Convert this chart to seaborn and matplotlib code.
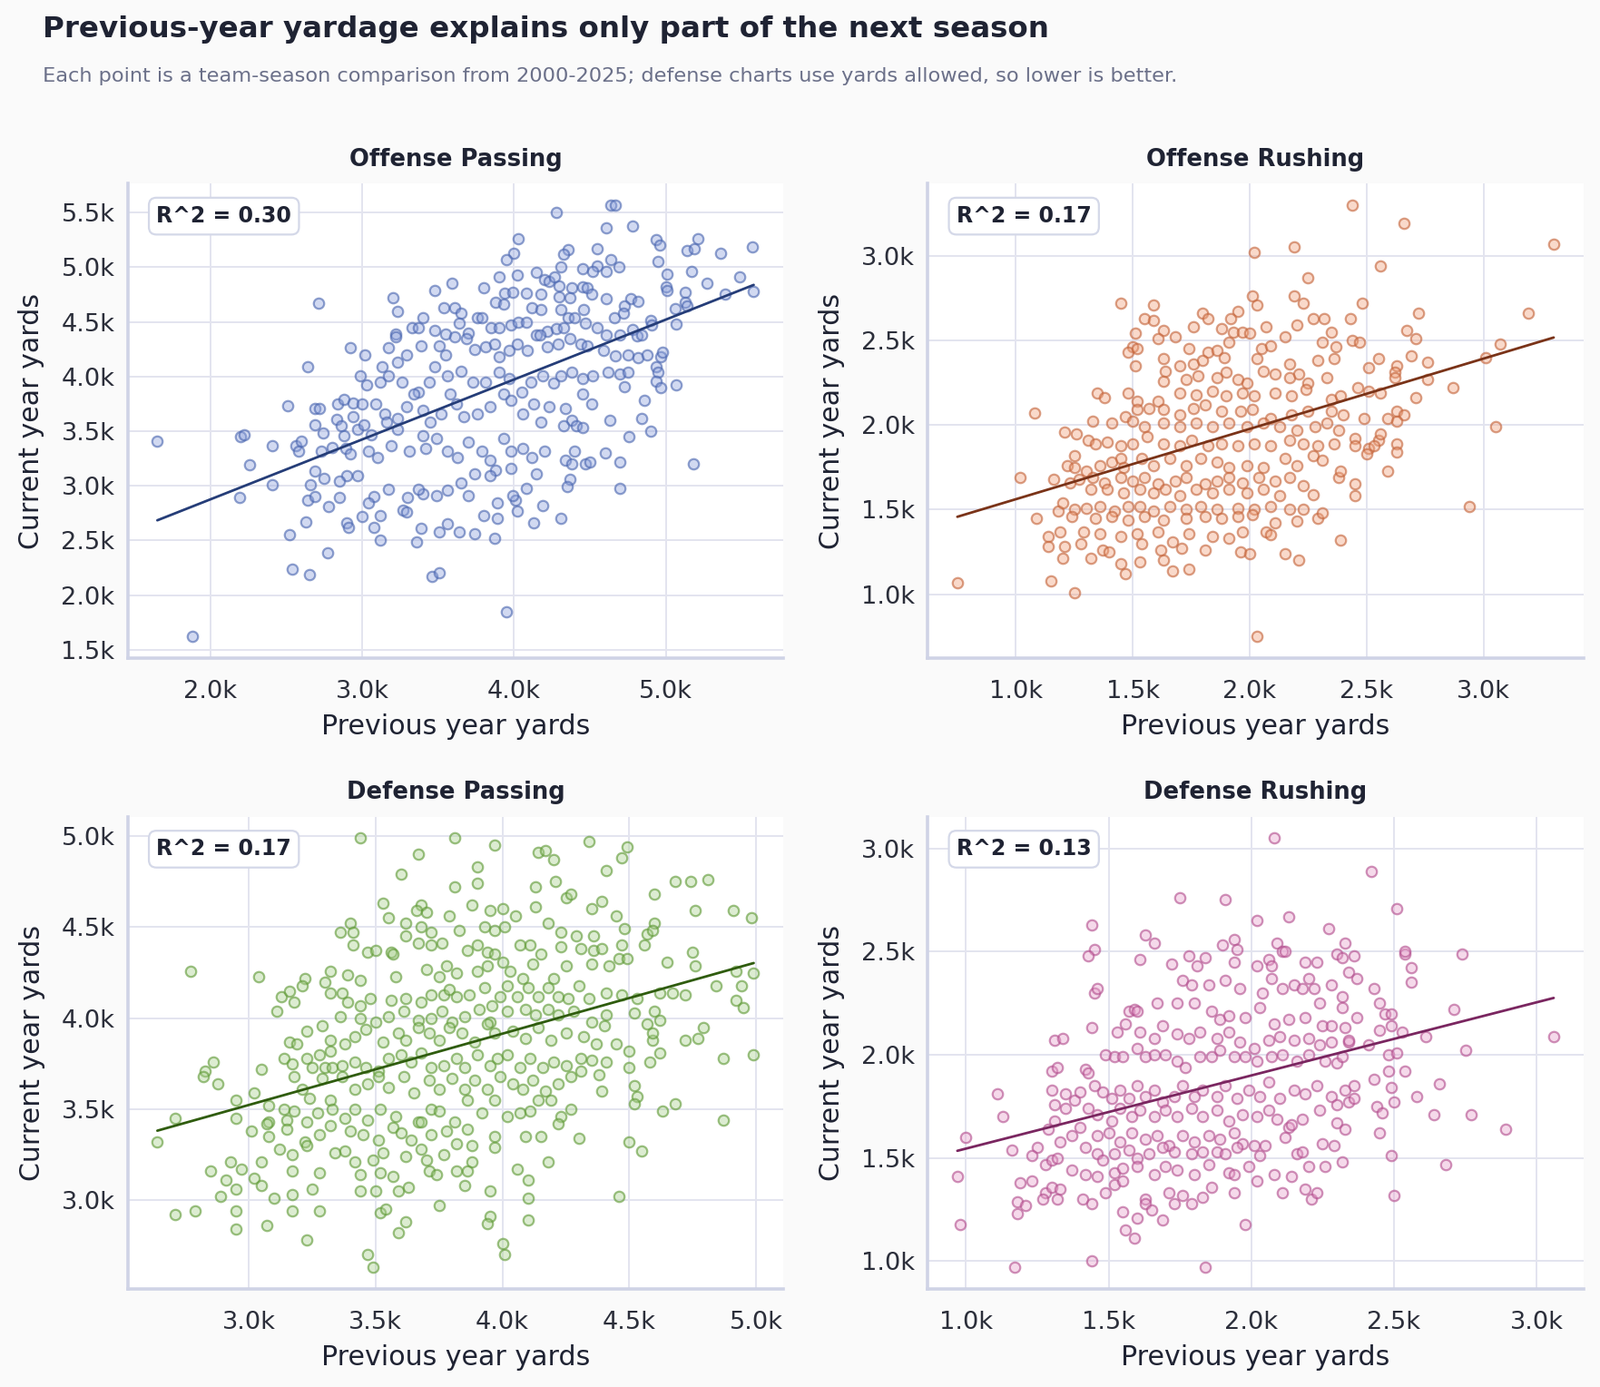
import numpy as np
import pandas as pd
import matplotlib
matplotlib.use("Agg")
import matplotlib.pyplot as plt
from matplotlib.ticker import FuncFormatter, MultipleLocator
import seaborn as sns

# (previous year yards, current year yards)
off_pass = [(4640,5570),(4670,5570),(4280,5500),(4610,5360),(4780,5380),(4030,5260),(4940,5250),(4960,5200),(5210,5260),(5570,5190),(5140,5150),(5190,5170),(5360,5130),(4550,5170),(4360,5160),(4330,5120),(4000,5130),(3950,5070),(4640,5070),(4950,5050),(4450,4990),(4550,5010),(4690,5000),(4520,4960),(4610,4960),(4310,5000),(4150,4950),(5170,4960),(5010,4940),(5490,4910),(3900,4910),(4020,4930),(4200,4890),(4230,4870),(4270,4910),(4300,4830),(3590,4850),(3480,4790),(3800,4810),(4380,4810),(4450,4820),(4480,4810),(5270,4850),(5390,4750),(5580,4780),(5000,4820),(5010,4790),(5130,4770),(5130,4680),(5140,4650),(5060,4620),(3200,4720),(2710,4670),(3230,4600),(3940,4760),(3990,4770),(4080,4760),(4180,4750),(4300,4730),(4370,4720),(4510,4750),(4610,4710),(4770,4710),(4820,4690),(4730,4650),(3880,4680),(3930,4660),(3540,4630),(3610,4630),(3650,4580),(3760,4540),(3790,4540),(4120,4630),(4180,4610),(4310,4610),(4360,4540),(4400,4540),(4460,4610),(4470,4490),(4660,4540),(4720,4580),(4900,4510),(4910,4470),(5070,4480),(3330,4450),(3370,4450),(3400,4540),(3480,4420),(3550,4390),(3610,4360),(3220,4390),(3220,4360),(3640,4490),(3700,4400),(3850,4450),(3900,4450),(3980,4470),(4030,4500),(4080,4500),(4150,4380),(4220,4410),(4280,4440),(4330,4450),(4550,4450),(4610,4380),(4700,4380),(4780,4430),(4810,4370),(4840,4380),(4970,4180),(4980,4220),(2920,4260),(3020,4200),(3170,4260),(3130,4090),(3230,4130),(3290,4200),(3390,4280),(3510,4280),(3550,4200),(3690,4350),(3740,4250),(3810,4270),(3870,4300),(3900,4180),(3970,4240),(4020,4300),(4090,4240),(4170,4380),(4220,4270),(4290,4300),(4370,4350),(4440,4300),(4480,4280),(4590,4240),(4670,4190),(4750,4200),(4820,4170),(4880,4200),(2640,4090),(4940,4090),(4950,4040),(4940,3960),(4970,3900),(5070,3920),(2990,4010),(3030,3920),(3120,3950),(3170,4010),(3260,3950),(3370,3860),(3440,3950),(3480,4090),(3560,4010),(3650,4050),(3730,3950),(3810,3950),(3900,4040),(3970,3980),(4050,3860),(4110,3950),(4190,4010),(4260,3940),(4310,4010),(4380,4040),(4450,3980),(4520,4010),(4620,4040),(4700,4020),(4750,4040),(4730,3910),(2510,3730),(2690,3710),(2720,3710),(2840,3750),(2880,3790),(2940,3760),(3000,3750),(2830,3610),(2860,3550),(2940,3630),(2690,3560),(2740,3480),(2880,3460),(2970,3520),(3010,3560),(3090,3750),(3150,3660),(3160,3580),(3230,3620),(3290,3720),(3340,3840),(3400,3690),(3450,3580),(3520,3660),(3580,3840),(3620,3750),(3670,3630),(3760,3660),(3840,3720),(3930,3840),(3980,3780),(4060,3660),(4130,3750),(4180,3580),(4230,3720),(4340,3710),(4380,3600),(4450,3840),(4510,3750),(4630,3600),(4840,3620),(4860,3780),(4900,3500),(4760,3450),(5180,3200),(1650,3410),(2200,3450),(2220,3470),(2260,3190),(2410,3370),(2560,3370),(2580,3320),(2600,3410),(2730,3320),(2800,3350),(2890,3340),(2920,3290),(3040,3320),(3060,3470),(3100,3260),(3190,3370),(3230,3520),(3310,3320),(3400,3460),(3420,3340),(3490,3430),(3560,3320),(3630,3260),(3700,3400),(3790,3320),(3840,3230),(3930,3430),(3980,3320),(4060,3340),(4120,3260),(4200,3320),(4400,3320),(4330,3550),(4410,3550),(4450,3530),(4340,3230),(4380,3200),(4470,3200),(4500,3220),(4600,3300),(4700,3220),(4700,2980),(4370,3060),(4350,2990),(4310,2700),(4130,2660),(4190,2820),(4080,2980),(4150,3110),(4010,2870),(3990,2910),(4020,2770),(3890,2840),(3890,2700),(3800,2730),(3870,2520),(3980,3160),(3880,3140),(3840,3090),(3740,3110),(3650,3030),(3560,2960),(3490,2910),(3700,2910),(3400,2930),(3370,2970),(3300,2890),(3270,2780),(3290,2760),(3170,2970),(3120,2730),(3080,2900),(3040,2840),(3000,2720),(2970,3090),(2900,3090),(2850,3040),(2850,2890),(2780,2810),(2750,3070),(2690,3130),(2660,3010),(2640,2870),(2690,2900),(2630,2670),(2520,2550),(2540,2240),(2650,2190),(2770,2390),(2190,2890),(2410,3010),(2900,2660),(2910,2620),(3080,2620),(3120,2500),(3360,2490),(3390,2610),(3510,2580),(3560,2650),(3640,2580),(3740,2560),(3460,2170),(3510,2200),(3950,1850),(1880,1620)]

off_rush = [(2440,3300),(2660,3190),(3300,3070),(2020,3020),(2190,3050),(2560,2940),(2250,2870),(1450,2720),(1590,2710),(2010,2760),(2030,2710),(2190,2760),(2230,2720),(2480,2720),(3190,2660),(2720,2660),(1550,2630),(1590,2620),(1800,2660),(1820,2630),(1950,2670),(1920,2630),(2270,2630),(2320,2630),(2430,2630),(2200,2590),(2070,2580),(1760,2580),(1880,2570),(1930,2550),(1970,2550),(2000,2540),(1630,2560),(1680,2520),(1510,2540),(1610,2510),(1910,2490),(2150,2520),(2350,2550),(2670,2560),(2710,2510),(2440,2500),(2470,2490),(2310,2490),(2370,2460),(1500,2460),(1480,2430),(1520,2450),(1740,2450),(1820,2430),(1860,2440),(2050,2450),(2090,2470),(1510,2350),(1630,2390),(1700,2350),(1760,2360),(1800,2380),(1890,2400),(2030,2390),(2170,2360),(2290,2380),(2360,2390),(2550,2390),(2630,2350),(2690,2410),(2760,2370),(3010,2400),(3070,2480),(2870,2220),(2760,2270),(1630,2260),(1640,2320),(1730,2270),(1780,2290),(1860,2280),(1900,2310),(1950,2270),(1990,2250),(2060,2320),(2110,2300),(2170,2280),(2210,2300),(2250,2250),(2330,2280),(2510,2340),(2620,2310),(2620,2280),(1350,2190),(1380,2160),(1480,2190),(1520,2140),(1610,2140),(1700,2190),(1770,2180),(1840,2200),(1900,2170),(1970,2190),(2020,2170),(2110,2190),(2180,2170),(2240,2210),(2350,2150),(2390,2170),(2460,2220),(2510,2200),(2560,2190),(2710,2160),(1080,2070),(1470,2050),(1520,2090),(1570,2100),(1630,2090),(1700,2060),(1760,2100),(1810,2120),(1880,2080),(1960,2080),(2010,2090),(2090,2040),(2180,2060),(2250,2080),(2350,2080),(2400,2060),(2490,2040),(2590,2040),(2630,2080),(2660,2060),(2630,2020),(3050,1990),(1330,2020),(1410,2010),(1500,2020),(1550,1990),(1630,2010),(1700,1990),(1770,2010),(1840,1990),(1910,2010),(1990,1990),(2060,2010),(2130,1990),(2200,1970),(2280,1990),(2330,2010),(2380,1970),(2450,1920),(2550,1910),(2560,1950),(2630,1890),(2630,1840),(2510,1860),(2530,1880),(2500,1830),(1210,1960),(1260,1950),(1310,1910),(1340,1890),(1390,1900),(1450,1880),(1500,1890),(1560,1930),(1630,1890),(1700,1880),(1750,1910),(1820,1880),(1880,1890),(1950,1880),(2020,1890),(2090,1880),(2170,1910),(2230,1890),(2290,1880),(2360,1890),(2450,1880),(2590,1730),(2450,1650),(2450,1580),(2380,1690),(2390,1730),(2390,1320),(2940,1520),(1250,1820),(1220,1760),(1250,1750),(1300,1730),(1360,1760),(1410,1780),(1450,1800),(1460,1750),(1540,1800),(1590,1760),(1660,1800),(1730,1760),(1790,1800),(1860,1780),(1910,1750),(1990,1760),(2060,1750),(2150,1800),(2200,1760),(2270,1820),(2310,1790),(1020,1690),(1160,1680),(1230,1660),(1270,1680),(1330,1690),(1380,1660),(1450,1690),(1500,1670),(1550,1690),(1610,1650),(1680,1670),(1730,1690),(1810,1650),(1860,1670),(1910,1690),(1970,1660),(2040,1690),(2110,1670),(2170,1690),(2230,1640),(2270,1590),(1320,1620),(1390,1620),(1460,1600),(1530,1620),(1590,1600),(1640,1620),(1700,1580),(1770,1620),(1840,1600),(1910,1620),(1990,1600),(2060,1620),(2130,1580),(1180,1490),(1200,1540),(1250,1500),(1300,1510),(1360,1520),(1420,1490),(1480,1520),(1530,1520),(1590,1490),(1660,1520),(1730,1500),(1790,1520),(1860,1500),(1950,1510),(2020,1500),(2090,1520),(2170,1500),(2230,1500),(1090,1450),(1240,1460),(1340,1450),(1410,1460),(1480,1440),(1550,1460),(1630,1440),(1730,1450),(1810,1460),(1880,1450),(1950,1460),(2010,1470),(2110,1420),(2200,1430),(2290,1450),(2310,1480),(1140,1340),(1190,1370),(1140,1280),(1210,1280),(1280,1300),(1290,1370),(1360,1360),(1370,1260),(1400,1250),(1320,1210),(1200,1210),(1450,1340),(1520,1360),(1540,1300),(1610,1370),(1670,1310),(1710,1270),(1740,1360),(1810,1260),(1840,1340),(1910,1330),(1970,1370),(2070,1370),(2090,1350),(1960,1250),(2000,1240),(2150,1240),(2210,1200),(1620,1260),(1630,1200),(1530,1190),(1450,1180),(1470,1120),(1670,1140),(1740,1150),(1150,1080),(1250,1010),(750,1070),(2030,750)]

def_pass = [(3440,4990),(3810,4990),(3970,4950),(3670,4900),(4140,4910),(4170,4920),(4200,4870),(4340,4970),(4490,4940),(4470,4880),(4410,4810),(3900,4830),(3900,4740),(3810,4720),(3600,4790),(4130,4720),(4210,4750),(4250,4660),(4270,4680),(4390,4640),(4600,4680),(4680,4750),(4740,4750),(4810,4760),(4760,4590),(4910,4590),(4980,4550),(3530,4630),(3680,4620),(3660,4590),(3700,4580),(3880,4620),(3950,4590),(4000,4600),(4130,4610),(4350,4600),(4450,4560),(3550,4550),(3620,4520),(3790,4560),(4050,4560),(4180,4520),(3400,4520),(3360,4470),(3410,4470),(3620,4450),(3680,4500),(3720,4470),(3830,4480),(3930,4500),(3970,4480),(4010,4500),(4230,4470),(4290,4450),(4360,4450),(4480,4490),(4570,4460),(4600,4520),(4590,4480),(3410,4400),(3470,4360),(3500,4370),(3560,4360),(3570,4350),(3670,4410),(3720,4400),(3760,4410),(3860,4370),(3900,4400),(3940,4360),(3970,4350),(4070,4400),(4110,4400),(4150,4350),(4230,4390),(4310,4380),(4360,4370),(4390,4380),(4470,4400),(4560,4400),(4750,4360),(2770,4260),(3040,4230),(3220,4220),(3320,4260),(3390,4240),(3440,4210),(3580,4230),(3700,4270),(3750,4230),(3780,4290),(3820,4250),(3900,4260),(3940,4290),(4000,4310),(4030,4260),(4080,4220),(4120,4300),(4200,4220),(4250,4290),(4350,4300),(4420,4290),(4460,4330),(4490,4330),(4650,4310),(4760,4290),(4920,4260),(4990,4250),(3130,4120),(3160,4150),(3180,4090),(3210,4180),(3300,4200),(3320,4140),(3370,4140),(3390,4090),(3440,4070),(3480,4110),(3560,4100),(3620,4110),(3680,4090),(3720,4130),(3770,4130),(3790,4160),(3820,4120),(3870,4130),(3930,4170),(3960,4070),(3990,4120),(4020,4180),(4060,4120),(4100,4170),(4140,4120),(4180,4170),(4220,4120),(4260,4110),(4300,4180),(4340,4110),(4410,4140),(4470,4130),(4530,4110),(4620,4140),(4670,4140),(4720,4130),(4840,4180),(4940,4180),(4920,4100),(4950,4060),(3110,4040),(3360,4010),(3440,4000),(3500,3980),(3550,4010),(3610,4040),(3670,3990),(3720,4000),(3760,4040),(3800,3980),(3850,4010),(3910,4050),(3950,3980),(4020,4040),(4090,4050),(4130,4020),(4180,4050),(4220,4020),(4280,4040),(4350,3980),(4410,4020),(4520,4030),(4570,3970),(4600,4040),(4620,3990),(3230,3930),(3290,3960),(3320,3880),(3380,3860),(3420,3900),(3460,3940),(3530,3870),(3590,3920),(3620,3880),(3670,3950),(3710,3920),(3750,3880),(3790,3950),(3840,3920),(3890,3870),(3940,3970),(3970,3920),(4040,3930),(4090,3890),(4140,3950),(4190,3880),(4250,3920),(4320,3900),(4370,3860),(4400,3960),(4590,3880),(4590,3920),(4720,3880),(4770,3890),(4790,3950),(4990,3800),(4870,3780),(4450,3860),(4500,3820),(4580,3760),(4620,3810),(3160,3870),(3190,3860),(3140,3780),(3170,3750),(2860,3760),(2830,3710),(2820,3680),(2880,3640),(3050,3720),(3230,3780),(3250,3730),(3280,3800),(3320,3820),(3300,3730),(3330,3730),(3370,3740),(3420,3760),(3460,3730),(3510,3710),(3550,3780),(3600,3800),(3640,3760),(3680,3810),(3720,3730),(3770,3740),(3820,3780),(3850,3730),(3900,3800),(3950,3740),(3980,3780),(4020,3800),(4070,3730),(4110,3780),(4160,3730),(4200,3760),(4250,3740),(4310,3780),(4350,3770),(4410,3760),(4500,3730),(3180,3680),(3210,3610),(3240,3560),(3290,3670),(3320,3550),(3370,3680),(3420,3610),(3470,3640),(3510,3680),(3550,3620),(3610,3680),(3650,3590),(3710,3660),(3750,3610),(3800,3670),(3850,3610),(3890,3660),(3940,3610),(3990,3680),(4040,3640),(4080,3610),(4120,3660),(4170,3600),(4220,3640),(4270,3680),(4310,3710),(4380,3690),(4390,3600),(4520,3630),(4530,3570),(4520,3530),(4680,3530),(4630,3490),(4870,3440),(2950,3550),(3020,3590),(3080,3520),(3140,3500),(3180,3490),(3080,3430),(3150,3440),(3230,3430),(3270,3480),(3330,3500),(3380,3450),(3420,3500),(3470,3440),(3520,3500),(3580,3460),(3670,3430),(3720,3500),(3750,3490),(3810,3430),(3860,3550),(3920,3480),(3970,3550),(4020,3460),(4070,3480),(4110,3490),(4140,3550),(4190,3550),(4230,3460),(4270,3500),(2710,3450),(2950,3450),(3010,3380),(3070,3420),(3080,3350),(3150,3390),(3220,3320),(3280,3360),(3320,3410),(3400,3380),(3450,3360),(3510,3330),(3570,3400),(3600,3370),(3640,3330),(3680,3430),(3720,3360),(3780,3380),(3820,3310),(3860,3390),(3880,3300),(3970,3350),(4090,3350),(4150,3350),(4220,3420),(4300,3340),(4500,3320),(4550,3270),(2640,3320),(3120,3280),(3170,3250),(3230,3300),(3340,3260),(3380,3270),(3420,3210),(3490,3220),(3530,3260),(3620,3240),(3680,3280),(3700,3220),(3770,3250),(3880,3210),(3970,3290),(4180,3210),(2930,3210),(2970,3170),(3050,3210),(2850,3160),(2910,3110),(2950,3060),(3020,3120),(3050,3080),(2890,3020),(3100,3010),(3170,3030),(3250,3060),(3170,3160),(3280,3150),(3440,3140),(3520,3150),(3570,3130),(3710,3160),(3740,3140),(3820,3160),(3860,3160),(4060,3170),(4100,3110),(3850,3080),(3950,3050),(3440,3050),(3500,3050),(3590,3050),(3630,3070),(4100,3010),(4460,3020),(3750,2970),(2710,2920),(2790,2940),(2950,2940),(2950,2840),(3070,2860),(3170,2940),(3280,2940),(3520,2930),(3540,2950),(3620,2880),(3590,2820),(3950,2910),(3940,2870),(4100,2890),(3230,2780),(3470,2700),(3490,2630),(4000,2760),(4010,2700)]

def_rush = [(2080,3050),(2420,2890),(1750,2760),(1910,2750),(1440,2630),(1630,2580),(1660,2540),(1450,2510),(1430,2480),(1450,2300),(1460,2320),(2020,2650),(2130,2670),(2270,2610),(2510,2710),(1900,2530),(1940,2560),(1950,2510),(2090,2540),(2110,2500),(2120,2500),(2330,2540),(2300,2490),(2320,2470),(2360,2480),(2540,2490),(2540,2500),(2560,2420),(2560,2350),(2740,2490),(1610,2460),(1720,2440),(1780,2480),(1810,2430),(1840,2470),(1940,2450),(2020,2430),(2060,2460),(2070,2430),(2190,2450),(2230,2450),(2340,2400),(2370,2370),(2200,2370),(1760,2360),(1790,2340),(1850,2340),(1910,2360),(1960,2320),(2040,2300),(2070,2370),(2110,2320),(2150,2340),(2180,2320),(2220,2320),(2280,2340),(2320,2280),(2430,2320),(2450,2250),(2470,2200),(2490,2200),(2710,2220),(3060,2090),(2750,2020),(2610,2090),(2530,2110),(2490,2140),(2450,2120),(2410,2050),(2370,2180),(2320,2230),(2240,2250),(1670,2250),(1740,2250),(1800,2250),(1860,2210),(1890,2170),(1920,2190),(1980,2180),(2030,2230),(2080,2150),(2130,2170),(2190,2180),(2250,2140),(2280,2140),(2330,2130),(2340,2060),(1310,2070),(1340,2080),(1440,2130),(1570,2210),(1590,2220),(1600,2210),(1530,2110),(1560,2150),(1610,2110),(1660,2080),(1690,2140),(1740,2100),(1780,2080),(1820,2110),(1880,2080),(1920,2110),(1960,2060),(2010,2030),(2060,2070),(2100,2090),(2150,2070),(2200,2080),(2240,2050),(2280,2060),(2340,2070),(2480,2000),(2510,2010),(1300,1920),(1320,1940),(1420,1930),(1430,1910),(1490,2000),(1520,1990),(1550,1990),(1600,2030),(1630,1990),(1660,2000),(1700,2000),(1740,1970),(1770,1940),(1820,1990),(1860,1990),(1890,2020),(1940,1990),(1980,1990),(2020,1970),(2070,1990),(2110,2000),(2160,1970),(2200,2000),(2260,1970),(2300,1960),(2320,1990),(2480,1920),(2540,1920),(2430,1880),(2490,1840),(2660,1860),(2580,1800),(2500,1770),(2440,1750),(2460,1720),(2640,1710),(2770,1710),(2890,1640),(2450,1620),(2490,1510),(2680,1470),(2500,1320),(1110,1810),(1130,1700),(1000,1600),(1160,1540),(970,1410),(980,1180),(1170,970),(1440,1000),(1840,970),(1300,1830),(1350,1810),(1380,1780),(1400,1820),(1310,1760),(1310,1680),(1350,1740),(1370,1610),(1290,1640),(1330,1580),(1250,1550),(1230,1510),(1280,1470),(1300,1490),(1320,1500),(1450,1850),(1480,1820),(1510,1790),(1540,1830),(1570,1790),(1600,1850),(1630,1800),(1660,1830),(1690,1770),(1730,1800),(1760,1850),(1800,1800),(1830,1830),(1880,1800),(1910,1850),(1950,1790),(1990,1830),(2030,1800),(2060,1870),(2100,1790),(2150,1830),(2190,1810),(2230,1850),(2280,1800),(2330,1830),(2360,1850),(2300,1760),(2340,1770),(2360,1790),(1430,1740),(1460,1710),(1510,1680),(1540,1740),(1580,1700),(1610,1730),(1660,1700),(1700,1730),(1740,1700),(1790,1740),(1830,1700),(1880,1730),(1920,1680),(1970,1710),(2020,1700),(2060,1730),(2090,1690),(2130,1650),(2140,1660),(2180,1690),(2240,1730),(2300,1670),(2330,1640),(1400,1650),(1460,1610),(1500,1620),(1540,1580),(1580,1620),(1630,1590),(1670,1610),(1710,1560),(1760,1610),(1800,1580),(1850,1610),(1890,1590),(1940,1620),(1970,1570),(2010,1560),(2050,1560),(2120,1600),(2250,1570),(2290,1560),(1420,1550),(1460,1520),(1480,1490),(1520,1520),(1570,1540),(1600,1500),(1640,1520),(1690,1550),(1730,1530),(1790,1520),(1830,1530),(1880,1530),(1910,1520),(1950,1550),(2030,1510),(2160,1520),(2180,1530),(1370,1440),(1420,1420),(1460,1410),(1520,1430),(1550,1450),(1600,1460),(1660,1420),(1700,1460),(1740,1440),(1800,1420),(1850,1470),(1920,1430),(1940,1420),(1990,1460),(2020,1390),(2080,1420),(2140,1410),(2200,1460),(2260,1460),(2320,1480),(1190,1380),(1230,1390),(1180,1290),(1210,1270),(1180,1230),(1280,1330),(1300,1360),(1330,1350),(1270,1300),(1320,1300),(1410,1300),(1440,1280),(1490,1330),(1520,1370),(1550,1390),(1630,1300),(1630,1280),(1650,1250),(1690,1200),(1710,1330),(1730,1280),(1760,1320),(1790,1280),(1830,1310),(1860,1360),(1940,1330),(2110,1330),(2190,1350),(2210,1300),(2230,1330),(1550,1240),(1600,1210),(1560,1150),(1590,1110),(1980,1180)]

panel_titles = ["Offense Passing", "Offense Rushing", "Defense Passing", "Defense Rushing"]
r2_labels = [0.30, 0.17, 0.17, 0.13]

sns.set_theme(style="whitegrid")
plt.rcParams["font.family"] = ["DejaVu Sans"]

dark = "#1f2333"
face_cols = ["#8ea2dc", "#f0a27c", "#a9d08c", "#e8a0cb"]
edge_cols = ["#4a66b0", "#c4643a", "#5f9a36", "#b34e8e"]
line_cols = ["#253d78", "#7a3318", "#2f5c0e", "#7a2660"]
x_steps = [1000, 500, 500, 500]
positions = [[0.0797, 0.5255, 0.410, 0.3423], [0.5797, 0.5255, 0.410, 0.3423],
             [0.0797, 0.0707, 0.410, 0.3406], [0.5797, 0.0707, 0.410, 0.3406]]

fig = plt.figure(figsize=(8.815, 7.64), dpi=200, facecolor="#fafafa")
kfmt = FuncFormatter(lambda v, p: f"{v/1000:.1f}k")

for i, pts in enumerate([off_pass, off_rush, def_pass, def_rush]):
    df = pd.DataFrame(pts, columns=["prev", "curr"])
    ax = fig.add_axes(positions[i])
    ax.set_facecolor("white")
    fc = matplotlib.colors.to_rgba(face_cols[i], 0.4)
    ec = matplotlib.colors.to_rgba(edge_cols[i], 0.62)
    sns.scatterplot(data=df, x="prev", y="curr", ax=ax, s=17, color=fc,
                    edgecolor=ec, linewidth=0.8, zorder=3)
    sns.regplot(data=df, x="prev", y="curr", ax=ax, scatter=False, ci=None,
                color=line_cols[i], line_kws={"linewidth": 1.0, "zorder": 4})
    ax.set_title(panel_titles[i], fontsize=9.3, fontweight="bold", color=dark, pad=7)
    ax.set_xlabel("Previous year yards", fontsize=10.8, color=dark, labelpad=4)
    ax.set_ylabel("Current year yards", fontsize=10.8, color=dark, labelpad=6.5)
    ax.xaxis.set_major_locator(MultipleLocator(x_steps[i]))
    ax.yaxis.set_major_locator(MultipleLocator(500))
    ax.xaxis.set_major_formatter(kfmt)
    ax.yaxis.set_major_formatter(kfmt)
    ax.tick_params(labelsize=9.8, colors="#2b2e3a", length=0)
    ax.tick_params(axis="x", pad=8.5)
    ax.tick_params(axis="y", pad=5)
    ax.grid(True, color="#e3e4ef", linewidth=0.7)
    ax.set_axisbelow(True)
    for side in ["top", "right"]:
        ax.spines[side].set_visible(False)
    for side in ["left", "bottom"]:
        ax.spines[side].set_color("#cfd3e6")
        ax.spines[side].set_linewidth(1.3)
    ax.text(0.044, 0.931, f"R^2 = {r2_labels[i]:.2f}", transform=ax.transAxes,
            ha="left", va="center", fontsize=8.5, fontweight="bold", color=dark, zorder=6,
            bbox=dict(boxstyle="round,pad=0.35", fc="white", ec="#d4d8e8", lw=0.8))

fig.text(0.0267, 0.979, "Previous-year yardage explains only part of the next season",
         fontsize=11.7, fontweight="bold", color=dark, va="center", ha="left")
fig.text(0.0267, 0.945, "Each point is a team-season comparison from 2000-2025; defense charts use yards allowed, so lower is better.",
         fontsize=8.1, color="#6b7089", va="center", ha="left")

fig.savefig("out.png", dpi=200, facecolor=fig.get_facecolor())
